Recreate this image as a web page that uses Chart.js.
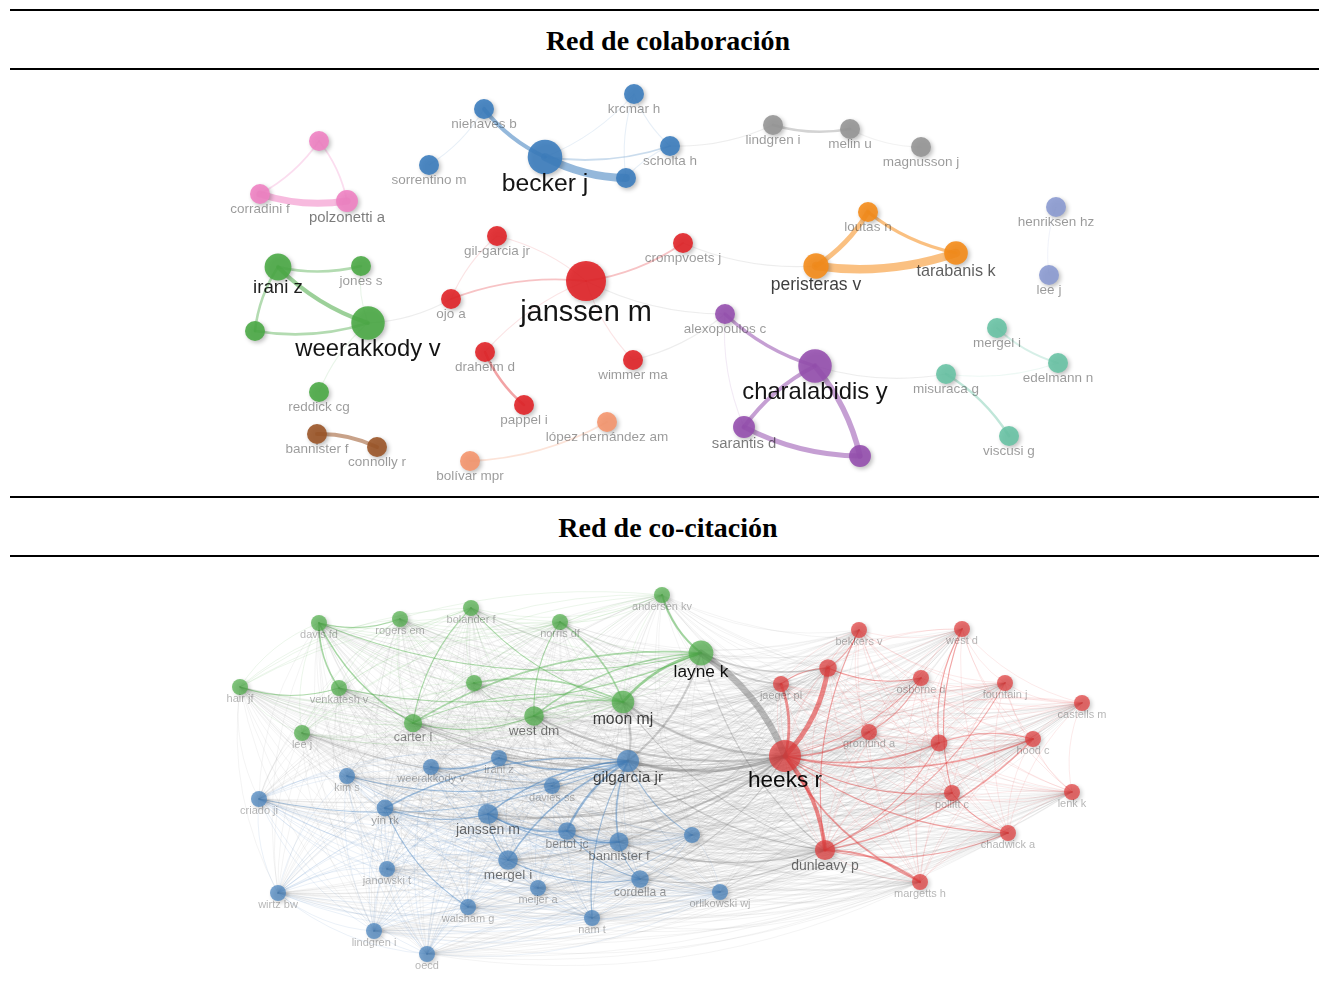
<!DOCTYPE html>
<html lang="es">
<head>
<meta charset="UTF-8">
<title>Redes de colaboración y co-citación</title>
<script src="https://cdn.jsdelivr.net/npm/chart.js"></script>
<style>
  body { margin: 0; background: #fff; }
  .page { position: relative; width: 1319px; height: 983px; overflow: hidden; }
  .rule { position: absolute; left: 10px; right: 0; height: 2px; background: #000; }
  .title {
    position: absolute; left: 17px; width: 1302px; text-align: center;
    font-family: "Liberation Serif", "DejaVu Serif", serif; font-weight: bold;
    font-size: 28px; line-height: 30px;
  }
  canvas { position: absolute; left: 0; }
</style>
</head>
<body>
<div class="page">
  <div class="rule" style="top:9px"></div>
  <div class="title" style="top:26px">Red de colaboración</div>
  <div class="rule" style="top:68px"></div>
  <canvas id="collabChart" width="1319" height="427" style="top:70px"></canvas>
  <div class="rule" style="top:496px"></div>
  <div class="title" style="top:513px">Red de co-citación</div>
  <div class="rule" style="top:555px"></div>
  <canvas id="cocitChart" width="1319" height="426" style="top:557px"></canvas>
</div>
<script>
// ---- co-authorship network (map coordinates, documents, cluster) ----
const collabNames = [
  'janssen m', 'gil-garcia jr', 'crompvoets j', 'ojo a', 'draheim d', 'pappel i', 'wimmer ma',
  'irani z', 'jones s', 'weerakkody v', '', 'reddick cg',
  'becker j', 'niehaves b', 'krcmar h', 'scholta h', 'sorrentino m', '',
  'loutas n', 'peristeras v', 'tarabanis k',
  'alexopoulos c', 'charalabidis y', 'sarantis d', '',
  'mergel i', 'edelmann n', 'misuraca g', 'viscusi g',
  '', 'corradini f', 'polzonetti a',
  'lindgren i', 'melin u', 'magnusson j',
  'bannister f', 'connolly r',
  'henriksen hz', 'lee j',
  'lópez hernández am', 'bolívar mpr'
];
const collabX = [586, 497, 683, 451, 485, 524, 633, 278, 361, 368, 255, 319, 545, 484, 634, 670, 429, 626,
  868, 816, 956, 725, 815, 744, 860, 997, 1058, 946, 1009, 319, 260, 347, 773, 850, 921, 317, 377, 1056, 1049, 607, 470];
const collabY = [281, 236, 243, 299, 352, 405, 360, 267, 266, 323, 331, 392, 157, 109, 94, 146, 165, 178,
  212, 266, 253, 314, 366, 427, 456, 328, 363, 374, 436, 141, 194, 201, 125, 129, 147, 434, 447, 207, 275, 422, 461];
const collabDocs = [40, 10, 10, 10, 10, 10, 10, 18, 10, 28, 10, 10, 30, 10, 10, 10, 10, 10,
  10, 16, 14, 10, 28, 12, 12, 10, 10, 10, 10, 10, 10, 12, 10, 10, 10, 10, 10, 10, 10, 10, 10];
const collabCluster = [0, 0, 0, 0, 0, 0, 0, 1, 1, 1, 1, 1, 2, 2, 2, 2, 2, 2,
  3, 3, 3, 4, 4, 4, 4, 5, 5, 5, 5, 6, 6, 6, 7, 7, 7, 8, 8, 9, 9, 10, 10];
// [source, target, co-authored documents]
const collabLinks = [
  [13, 12, 5], [12, 17, 10], [12, 15, 2], [12, 14, 1], [16, 13, 1], [14, 15, 1], [14, 17, 1], [15, 17, 1],
  [15, 32, 1], [32, 33, 3], [33, 34, 1],
  [30, 31, 9], [30, 29, 2], [31, 29, 2],
  [19, 20, 11], [19, 18, 6], [18, 20, 4], [2, 19, 1], [37, 38, 1],
  [7, 8, 3], [7, 9, 5], [7, 10, 3], [10, 9, 3], [8, 9, 1], [9, 11, 1], [9, 3, 1],
  [0, 3, 2], [0, 2, 2], [0, 1, 1], [0, 4, 1], [0, 6, 1], [0, 21, 1], [1, 3, 1], [6, 21, 1], [4, 5, 3],
  [40, 39, 2], [36, 35, 5],
  [21, 22, 4], [24, 22, 7], [22, 23, 5], [23, 24, 6], [21, 23, 1], [22, 27, 1],
  [25, 26, 2], [28, 27, 3], [27, 26, 1]
];
const collabColors = ['225,35,40', '75,170,70', '60,125,190', '245,140,25', '150,80,175', '105,195,165',
  '240,130,195', '150,150,150', '155,85,40', '140,155,210', '245,150,110'];

// ---- co-citation network (map coordinates, citations, cluster) ----
const cocitNames = [
  'davis fd', 'rogers em', 'bolander f', 'norris df', 'andersen kv', 'hair jf', 'venkatesh v', '',
  'lee j', 'carter l', 'west dm', 'moon mj', 'layne k',
  'kim s', 'weerakkody v', 'irani z', 'gilgarcia jr', 'davies ss', 'criado ji', 'yin rk', 'janssen m',
  'bertot jc', 'bannister f', 'mergel i', 'janowski t', 'meijer a', 'wirtz bw', 'walsham g', 'nam t',
  'lindgren i', 'oecd', 'cordella a', 'orlikowski wj', '',
  'bekkers v', 'west d', '', 'jaeger pl', 'osborne d', 'fountain j', 'castells m', 'gronlund a', '',
  'hood c', 'heeks r', 'pollitt c', 'lenk k', 'chadwick a', 'dunleavy p', 'margetts h'
];
const cocitX = [319, 400, 471, 560, 662, 240, 339, 474, 302, 413, 534, 623, 701,
  347, 431, 499, 628, 552, 259, 385, 488, 567, 619, 508, 387, 538, 278, 468, 592, 374, 427, 640, 720, 692,
  859, 962, 828, 781, 921, 1005, 1082, 869, 939, 1033, 785, 952, 1072, 1008, 825, 920];
const cocitY = [623, 619, 608, 622, 595, 687, 688, 683, 733, 723, 716, 702, 653,
  776, 767, 758, 761, 786, 799, 808, 814, 831, 842, 860, 869, 888, 893, 907, 918, 931, 954, 879, 892, 835,
  630, 629, 668, 684, 678, 683, 703, 732, 743, 739, 756, 793, 792, 833, 850, 882];
const cocitCites = [10, 10, 10, 10, 10, 10, 10, 10, 10, 13, 15, 20, 24,
  10, 10, 10, 19, 10, 10, 11, 16, 12, 14, 15, 10, 10, 10, 10, 10, 10, 10, 12, 10, 10,
  10, 10, 12, 10, 10, 10, 10, 10, 11, 10, 40, 10, 10, 10, 16, 10];
const cocitCluster = [1, 1, 1, 1, 1, 1, 1, 1, 1, 1, 1, 1, 1,
  2, 2, 2, 2, 2, 2, 2, 2, 2, 2, 2, 2, 2, 2, 2, 2, 2, 2, 2, 2, 2,
  0, 0, 0, 0, 0, 0, 0, 0, 0, 0, 0, 0, 0, 0, 0, 0];
// [source, target, co-citation strength]
const cocitLinks = [
  [44, 12, 12], [16, 44, 6], [44, 36, 9], [44, 37, 5], [48, 44, 7], [44, 41, 3], [44, 42, 3], [44, 43, 3],
  [44, 49, 3], [44, 38, 2], [44, 47, 2], [44, 45, 2], [49, 48, 4], [48, 43, 3], [48, 42, 2], [48, 39, 2],
  [48, 47, 2], [41, 38, 2], [45, 47, 2], [35, 42, 2], [34, 48, 2], [35, 45, 2], [43, 42, 2], [36, 34, 2],
  [36, 37, 2], [36, 38, 2],
  [12, 11, 5], [4, 12, 4], [12, 10, 3], [12, 9, 3], [11, 3, 3], [11, 10, 3], [11, 7, 3], [11, 9, 2],
  [0, 6, 3], [0, 9, 3], [0, 1, 2], [2, 9, 2], [3, 10, 2], [9, 10, 2], [2, 11, 2], [0, 12, 2], [6, 12, 2],
  [5, 6, 2], [11, 44, 4], [10, 44, 4], [9, 44, 3], [16, 11, 4], [16, 12, 4], [15, 16, 3], [14, 15, 3],
  [20, 44, 3], [23, 44, 3], [22, 48, 3], [21, 44, 3], [31, 44, 2], [16, 48, 2], [12, 48, 2], [11, 48, 2],
  [12, 37, 3], [12, 36, 3], [10, 16, 2], [9, 16, 2], [8, 44, 2], [6, 44, 2], [19, 44, 2], [31, 48, 2],
  [16, 21, 4], [16, 20, 3], [16, 19, 3], [16, 23, 3], [20, 21, 3], [21, 22, 3], [19, 20, 2], [19, 27, 2],
  [20, 23, 2], [16, 22, 3], [16, 17, 2], [23, 31, 2], [21, 31, 2], [16, 33, 2], [13, 16, 2], [22, 31, 2],
  [16, 28, 2], [18, 16, 2], [20, 22, 2]
];
const cocitColors = ['225,60,60', '80,175,75', '70,130,190'];

function buildNetwork(canvasId, net, style) {
  const n = net.names.length;
  const clusters = [...new Set(net.cluster)];
  const datasets = clusters.map(c => ({
    data: net.names.map((name, i) => ({ x: net.x[i], y: net.y[i], w: net.weight[i], name }))
      .filter((p, i) => net.cluster[i] === c),
    backgroundColor: `rgba(${style.colors[c]},${style.nodeAlpha})`,
    borderWidth: 0,
    pointRadius: ctx => style.radius(ctx.raw.w),
    clip: false
  }));

  // links are drawn as gentle arcs, bending to the right of the source->target direction
  function curve(ctx, ax, ay, bx, by) {
    const dx = bx - ax, dy = by - ay;
    const cx = (ax + bx) / 2 - dy * style.bend, cy = (ay + by) / 2 + dx * style.bend;
    ctx.beginPath();
    ctx.moveTo(ax, ay);
    ctx.quadraticCurveTo(cx, cy, bx, by);
    ctx.stroke();
  }

  const network = {
    id: 'network',
    beforeDatasetsDraw(chart) {
      const ctx = chart.ctx, xs = chart.scales.x, ys = chart.scales.y;
      const px = net.x.map(v => xs.getPixelForValue(v));
      const py = net.y.map(v => ys.getPixelForValue(v));
      ctx.save();
      ctx.lineCap = 'round';
      // faint background mesh between every pair of references
      if (style.mesh) {
        ctx.lineWidth = style.mesh.width;
        for (let i = 0; i < n; i++) {
          for (let j = i + 1; j < n; j++) {
            const same = net.cluster[i] === net.cluster[j];
            ctx.strokeStyle = same
              ? `rgba(${style.colors[net.cluster[i]]},${style.mesh.alphaSame})`
              : `rgba(120,120,120,${style.mesh.alphaCross})`;
            curve(ctx, px[i], py[i], px[j], py[j]);
          }
        }
      }
      const links = [...net.links].sort((a, b) => a[2] - b[2]);
      links.forEach(([s, t, k]) => {
        const same = net.cluster[s] === net.cluster[t];
        ctx.strokeStyle = same
          ? `rgba(${style.colors[net.cluster[s]]},${style.linkAlpha(k, true)})`
          : `rgba(110,110,110,${style.linkAlpha(k, false)})`;
        ctx.lineWidth = style.linkWidth(k);
        curve(ctx, px[s], py[s], px[t], py[t]);
      });
      ctx.restore();
      ctx.save();
      ctx.shadowColor = 'rgba(0,0,0,0.28)';
      ctx.shadowBlur = 4;
      ctx.shadowOffsetX = 2;
      ctx.shadowOffsetY = 2;
    },
    afterDatasetsDraw(chart) {
      const ctx = chart.ctx, xs = chart.scales.x, ys = chart.scales.y;
      ctx.restore();
      ctx.save();
      ctx.textAlign = 'center';
      ctx.textBaseline = 'middle';
      net.names.forEach((name, i) => {
        if (!name) return;
        const w = net.weight[i];
        const fs = style.font(w), r = style.radius(w);
        ctx.font = `${fs.toFixed(1)}px "Liberation Sans", Arial, sans-serif`;
        ctx.fillStyle = `rgba(0,0,0,${style.labelAlpha(w)})`;
        ctx.fillText(name, xs.getPixelForValue(net.x[i]), ys.getPixelForValue(net.y[i]) + r + fs * 0.4);
      });
      ctx.restore();
    }
  };

  return new Chart(document.getElementById(canvasId), {
    type: 'scatter',
    data: { datasets },
    options: {
      responsive: false,
      animation: false,
      events: [],
      layout: { padding: 0, autoPadding: false },
      plugins: { legend: { display: false }, tooltip: { enabled: false } },
      scales: {
        x: { type: 'linear', min: 0, max: 1319, display: false },
        y: { type: 'linear', min: style.yMin, max: style.yMax, reverse: true, display: false }
      }
    },
    plugins: [network]
  });
}

buildNetwork('collabChart',
  { names: collabNames, x: collabX, y: collabY, weight: collabDocs, cluster: collabCluster, links: collabLinks },
  {
    yMin: 70, yMax: 497,
    colors: collabColors,
    nodeAlpha: 0.9,
    bend: 0.12,
    radius: w => 10 * Math.sqrt(w / 10),
    font: w => 13.5 * Math.pow(w / 10, 0.55),
    labelAlpha: w => Math.min(0.92, 0.4 + (w - 10) * 0.06),
    linkWidth: k => 0.75 * k + 0.3,
    linkAlpha: (k, same) => same ? Math.min(0.55, 0.12 + 0.15 * (k - 1)) : 0.12
  });

buildNetwork('cocitChart',
  { names: cocitNames, x: cocitX, y: cocitY, weight: cocitCites, cluster: cocitCluster, links: cocitLinks },
  {
    yMin: 557, yMax: 983,
    colors: cocitColors,
    nodeAlpha: 0.72,
    bend: 0.16,
    radius: w => 8 * Math.sqrt(w / 10),
    font: w => 11 * Math.pow(w / 10, 0.52),
    labelAlpha: w => Math.min(0.95, 0.3 + (w - 10) * 0.045),
    mesh: { width: 0.7, alphaSame: 0.16, alphaCross: 0.12 },
    linkWidth: k => 0.55 * k,
    linkAlpha: (k, same) => same ? Math.min(0.6, 0.3 + 0.05 * k) : Math.min(0.45, 0.15 + 0.04 * k)
  });
</script>
</body>
</html>
